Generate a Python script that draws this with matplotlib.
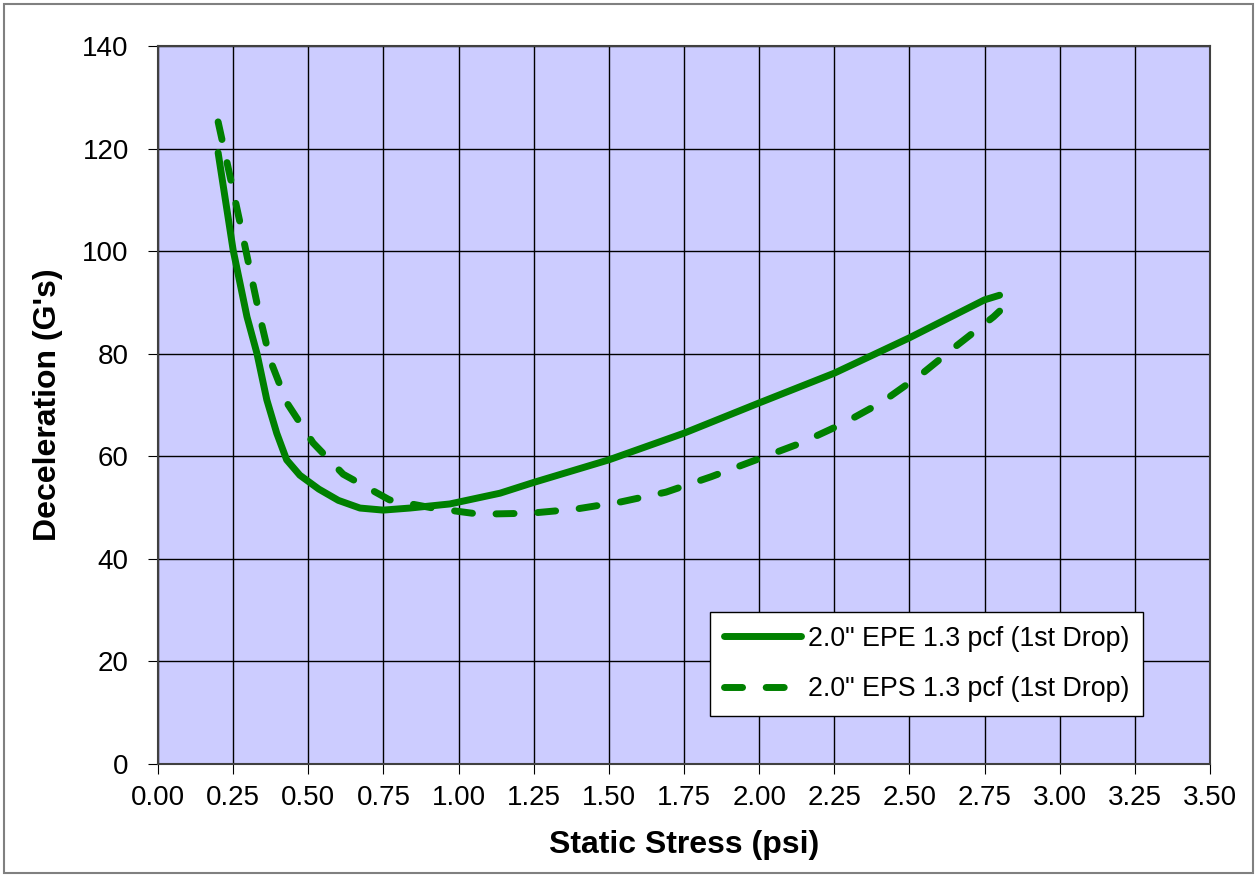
import matplotlib.pyplot as plt
from matplotlib.patches import Rectangle

plt.rcParams['font.family'] = ['Liberation Sans', 'DejaVu Sans']

# EPE curve (solid)
epe_x = [0.20, 0.25, 0.296, 0.329, 0.362, 0.395, 0.428, 0.472, 0.535, 0.60, 0.672, 0.749, 0.838, 0.971, 1.138, 1.25, 1.50, 1.75, 2.00, 2.25, 2.50, 2.75, 2.80]
epe_y = [119.2, 100.2, 87.2, 80.1, 71.0, 64.5, 59.3, 56.3, 53.6, 51.4, 49.9, 49.5, 49.9, 50.7, 52.8, 54.9, 59.3, 64.5, 70.4, 76.2, 83.1, 90.5, 91.4]

# EPS curve (dashed)
eps_x = [0.20, 0.24, 0.273, 0.306, 0.339, 0.373, 0.429, 0.516, 0.616, 0.77, 0.915, 1.07, 1.24, 1.39, 1.54, 1.69, 1.84, 1.99, 2.14, 2.28, 2.41, 2.54, 2.66, 2.78, 2.80]
eps_y = [125.2, 114.5, 105.5, 96.3, 87.2, 78.8, 70.4, 62.6, 56.5, 51.5, 49.9, 48.7, 48.9, 49.7, 51.1, 53.0, 56.0, 59.3, 62.6, 66.4, 70.6, 76.0, 81.7, 87.2, 88.3]

labels = ['2.0" EPE 1.3 pcf (1st Drop)', '2.0" EPS 1.3 pcf (1st Drop)']

fig = plt.figure(figsize=(12.57, 8.76), dpi=100)
ax = fig.add_axes([0.1257, 0.1279, 0.8369, 0.8196])
ax.set_facecolor('#CCCCFF')

green = '#008000'
ax.plot(epe_x, epe_y, color=green, lw=5, solid_capstyle='round', solid_joinstyle='round', label=labels[0])
ax.plot(eps_x, eps_y, color=green, lw=5, linestyle=(0, (2.6, 3.4)), dash_capstyle='round',
        dash_joinstyle='round', label=labels[1])

ax.set_xlim(0, 3.5)
ax.set_ylim(0, 140)
ax.set_xticks([i * 0.25 for i in range(15)])
ax.set_xticklabels([f'{i * 0.25:.2f}' for i in range(15)])
ax.set_yticks(range(0, 141, 20))
ax.grid(True, color='black', lw=1)
ax.set_axisbelow(True)
ax.tick_params(labelsize=20, length=7, direction='out', color='black')
ax.tick_params(axis='x', pad=8)
ax.tick_params(axis='y', pad=14)
for s in ax.spines.values():
    s.set_color('#404040')
    s.set_linewidth(1.5)

ax.set_xlabel('Static Stress (psi)', fontsize=23, fontweight='bold', labelpad=14)
ax.set_ylabel("Deceleration (G's)", fontsize=23, fontweight='bold', labelpad=14)

leg = ax.legend(loc='lower left', bbox_to_anchor=(0.525, 0.067), fontsize=19.3,
                frameon=True, fancybox=False, handlelength=2.9, handletextpad=0.25,
                borderpad=0.5, labelspacing=0.93, borderaxespad=0)
leg.get_frame().set_edgecolor('black')
leg.get_frame().set_linewidth(1)
leg.get_frame().set_alpha(1)

fig.patches.append(Rectangle((0.003, 0.003), 0.994, 0.993, transform=fig.transFigure,
                             fill=False, edgecolor='#808080', lw=1.5))

fig.savefig('out.png', dpi=100)
